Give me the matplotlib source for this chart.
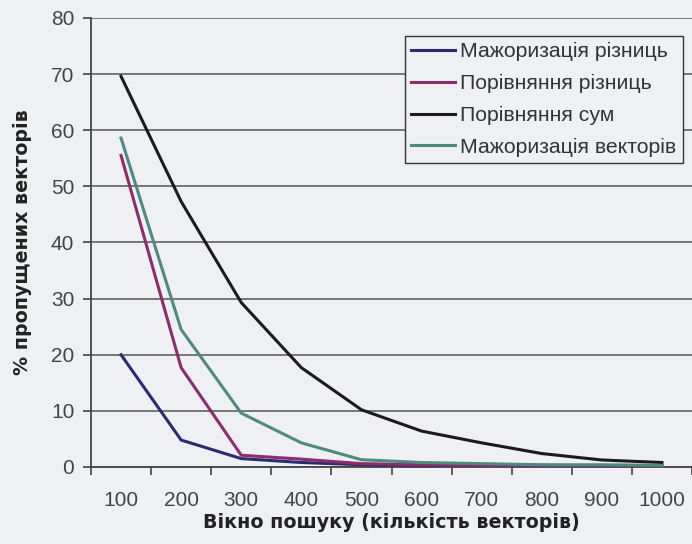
import numpy as np
import matplotlib.pyplot as plt

# дані
windows = ['100', '200', '300', '400', '500', '600', '700', '800', '900', '1000']
maj_diff = [20.0, 4.8, 1.5, 0.8, 0.4, 0.3, 0.3, 0.2, 0.2, 0.2]
cmp_diff = [55.5, 17.7, 2.1, 1.4, 0.6, 0.4, 0.3, 0.3, 0.2, 0.2]
cmp_sum = [69.6, 47.3, 29.3, 17.7, 10.2, 6.4, 4.3, 2.4, 1.25, 0.8]
maj_vec = [58.6, 24.5, 9.6, 4.3, 1.3, 0.8, 0.6, 0.4, 0.4, 0.3]

labels = ['Мажоризація різниць', 'Порівняння різниць',
          'Порівняння сум', 'Мажоризація векторів']
colors = ['#2b2b72', '#8c2c6c', '#1c1a1e', '#4e8a82']

plt.rcParams['font.family'] = ['Liberation Sans', 'DejaVu Sans']

bg = '#eff0f3'
fig = plt.figure(figsize=(6.92, 5.44), dpi=100, facecolor=bg)
ax = fig.add_axes([91 / 692, 1 - 467 / 544, 1 - 91 / 692, (467 - 18) / 544])
ax.set_facecolor(bg)

x = np.arange(1, len(windows) + 1)
for ys, lab, col in zip([maj_diff, cmp_diff, cmp_sum, maj_vec], labels, colors):
    ax.plot(x, ys, color=col, lw=2.2, label=lab, zorder=3)

ax.set_ylim(0, 80)
ax.set_yticks(range(0, 81, 10))
ax.set_xlim(0.5, 10.45)
ax.set_xticks(x)
ax.set_xticklabels(windows)
ax.set_xticks(np.arange(0.5, 10.6, 1.0), minor=True)
ax.tick_params(axis='x', which='major', length=0, pad=17, labelsize=15, labelcolor='#444444')
ax.tick_params(axis='x', which='minor', length=6, width=1.2, color='#444444', direction='out')
ax.tick_params(axis='y', length=6, width=1.2, color='#444444', labelsize=15,
               labelcolor='#444444', pad=6)

ax.grid(axis='y', color='#555555', lw=1.1, zorder=1)
for s in ['top', 'right']:
    ax.spines[s].set_visible(False)
for s in ['left', 'bottom']:
    ax.spines[s].set_color('#444444')
    ax.spines[s].set_linewidth(1.3)

ax.set_ylabel('% пропущених векторів', fontsize=13.7, fontweight='bold',
              family=['DejaVu Sans'], color='#222222')
ax.yaxis.set_label_coords(-0.098, 0.5)
ax.set_xlabel('Вікно пошуку (кількість векторів)', fontsize=13.7, fontweight='bold',
              family=['DejaVu Sans'], color='#222222')
ax.xaxis.set_label_coords(0.50, -0.102)

leg = ax.legend(loc='upper left', bbox_to_anchor=(314 / 601, 1 - 18 / 449),
                fontsize=15.3, frameon=True, fancybox=False, handlelength=2.07,
                handletextpad=0.24, labelspacing=0.6, borderpad=0.3,
                borderaxespad=0)
leg.get_frame().set_facecolor(bg)
leg.get_frame().set_edgecolor('#333333')
leg.get_frame().set_linewidth(1.0)
leg.get_frame().set_alpha(1)
for t in leg.get_texts():
    t.set_color('#333333')

fig.savefig('out.png', dpi=100, facecolor=bg)
